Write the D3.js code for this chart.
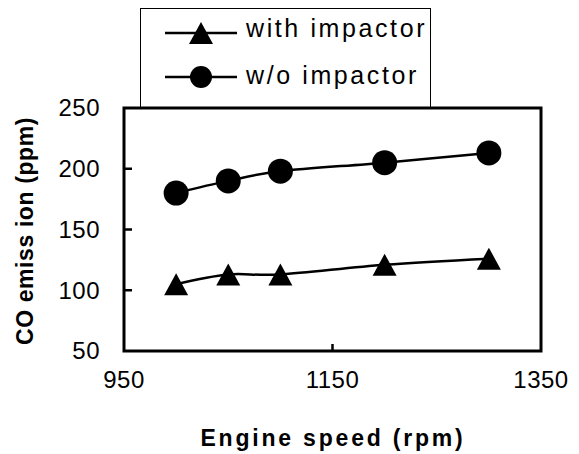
<!DOCTYPE html>
<html>
<head>
<meta charset="utf-8">
<script src="https://cdn.jsdelivr.net/npm/d3@7/dist/d3.min.js"></script>
<style>
  html, body { margin: 0; padding: 0; background: #fff; }
  svg { display: block; }
  text { font-family: "Liberation Sans", Arial, sans-serif; fill: #000; }
</style>
</head>
<body>
<svg id="chart" width="579" height="454"></svg>
<script>
// ---- data ----
const engineSpeed = [1000, 1050, 1100, 1200, 1300];
const withImpactor = [105, 113, 113, 121, 126];
const withoutImpactor = [180, 190, 198, 205, 213];
const seriesNames = ["with impactor", "w/o impactor"];
const xTicks = [950, 1150, 1350];
const yTicks = [50, 100, 150, 200, 250];
const xTitle = "Engine speed (rpm)";
const yTitle = "CO emiss ion (ppm)";

const svg = d3.select("#chart");
const plot = { left: 124, right: 541, top: 108, bottom: 351 };
const x = d3.scaleLinear().domain([950, 1350]).range([plot.left, plot.right]);
const y = d3.scaleLinear().domain([50, 250]).range([plot.bottom, plot.top]);

// legend (behind plot frame)
const legend = svg.append("g");
legend.append("rect")
  .attr("x", 140.5).attr("y", 8.5).attr("width", 290).attr("height", 100)
  .attr("fill", "#fff").attr("stroke", "#000").attr("stroke-width", 1);
const rows = [{ cy: 33, base: 37 }, { cy: 77, base: 84 }];
function triPath(cx, cy, w, h) {
  return `M${cx},${cy - h / 2}L${cx + w / 2},${cy + h / 2}L${cx - w / 2},${cy + h / 2}Z`;
}
rows.forEach((r, i) => {
  legend.append("line").attr("x1", 165).attr("x2", 237).attr("y1", r.cy).attr("y2", r.cy)
    .attr("stroke", "#000").attr("stroke-width", 2.5);
  if (i === 0) legend.append("path").attr("d", triPath(201, r.cy, 24, 22)).attr("fill", "#000");
  else legend.append("circle").attr("cx", 201).attr("cy", r.cy).attr("r", 11).attr("fill", "#000");
  legend.append("text").attr("x", 246).attr("y", r.base)
    .style("font-size", "25px").style("letter-spacing", "2.6px").text(seriesNames[i]);
});

// plot frame
svg.append("rect").attr("x", plot.left).attr("y", plot.top)
  .attr("width", plot.right - plot.left).attr("height", plot.bottom - plot.top)
  .attr("fill", "none").attr("stroke", "#000").attr("stroke-width", 3);

// inside tick marks
svg.append("g").selectAll("line").data(yTicks.slice(1, -1)).join("line")
  .attr("x1", plot.left).attr("x2", plot.left + 8)
  .attr("y1", d => y(d)).attr("y2", d => y(d))
  .attr("stroke", "#000").attr("stroke-width", 2.5);
svg.append("g").selectAll("line").data(xTicks.slice(1, -1)).join("line")
  .attr("x1", d => x(d)).attr("x2", d => x(d))
  .attr("y1", plot.bottom).attr("y2", plot.bottom - 7)
  .attr("stroke", "#000").attr("stroke-width", 2.5);

// tick labels
svg.append("g").selectAll("text").data(yTicks).join("text")
  .attr("x", plot.left - 24).attr("y", d => y(d)).attr("dy", "0.35em")
  .attr("text-anchor", "end")
  .style("font-size", "24px").style("letter-spacing", "0.5px").text(d => d);
svg.append("g").selectAll("text").data(xTicks).join("text")
  .attr("x", d => x(d)).attr("y", plot.bottom + 37).attr("text-anchor", "middle")
  .style("font-size", "24px").style("letter-spacing", "0.5px").text(d => d);

// series
const line = d3.line().x(d => x(d[0])).y(d => y(d[1])).curve(d3.curveCatmullRom.alpha(0));
const triData = engineSpeed.map((s, i) => [s, withImpactor[i]]);
const cirData = engineSpeed.map((s, i) => [s, withoutImpactor[i]]);
[triData, cirData].forEach(d => {
  svg.append("path").datum(d).attr("d", line)
    .attr("fill", "none").attr("stroke", "#000").attr("stroke-width", 2.5);
});
svg.append("g").selectAll("path").data(triData).join("path")
  .attr("d", d => triPath(x(d[0]), y(d[1]), 24, 22)).attr("fill", "#000");
svg.append("g").selectAll("circle").data(cirData).join("circle")
  .attr("cx", d => x(d[0])).attr("cy", d => y(d[1])).attr("r", 12.5).attr("fill", "#000");

// axis titles
svg.append("text")
  .attr("x", 333).attr("y", 446).attr("text-anchor", "middle")
  .style("font-size", "23px").style("font-weight", "bold").style("letter-spacing", "2.8px")
  .text(xTitle);
svg.append("text")
  .attr("transform", "translate(33,231) rotate(-90)").attr("text-anchor", "middle")
  .style("font-size", "23px").style("font-weight", "bold").style("letter-spacing", "0.6px")
  .text(yTitle);
</script>
</body>
</html>
